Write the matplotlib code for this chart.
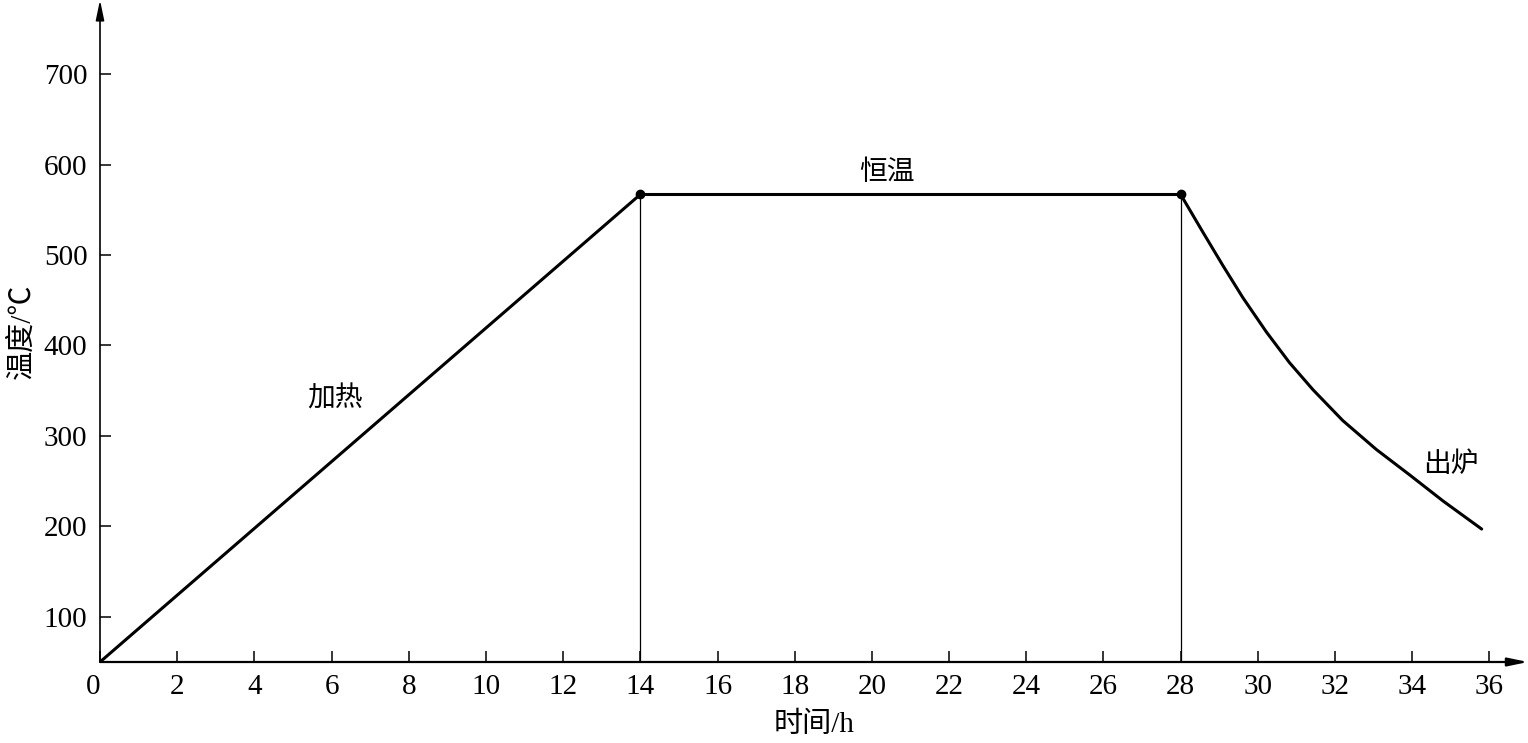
import matplotlib
matplotlib.use("Agg")
import matplotlib.pyplot as plt

# heating curve (time in h, temperature in C)
heat_t = [0, 14]
heat_T = [50, 567]
hold_t = [14, 28]
hold_T = [567, 567]
cool_t = [28, 28.58, 29.10, 29.61, 30.22, 30.82, 31.43, 32.20, 33.07, 33.93, 34.80, 35.80]
cool_T = [567, 525, 488, 453, 415, 381, 351, 317, 285, 257, 228, 197]

xticks = list(range(0, 37, 2))
yticks = [100, 200, 300, 400, 500, 600, 700]

labels = [("加热", 6.1, 340), ("恒温", 20.4, 590), ("出炉", 35.0, 268)]

FAM = ["Liberation Serif", "Noto Sans CJK SC"]
plt.rcParams["font.family"] = FAM

fig = plt.figure(figsize=(15.28, 7.43), dpi=100)
ax = fig.add_axes([100 / 1528, 81 / 743, 1428 / 1528, 662 / 743])
ax.set_xlim(0, 37)
ax.set_ylim(50, 782)

for s in ax.spines.values():
    s.set_visible(False)

# axes drawn as arrows
ax.annotate("", xy=(1, 0), xytext=(0, 0), xycoords="axes fraction",
            arrowprops=dict(arrowstyle="-|>,head_length=1.2,head_width=0.25",
                            lw=1.6, color="black", shrinkA=0, shrinkB=0),
            annotation_clip=False)
ax.annotate("", xy=(0, 1), xytext=(0, 0), xycoords="axes fraction",
            arrowprops=dict(arrowstyle="-|>,head_length=1.2,head_width=0.25",
                            lw=1.2, color="black", shrinkA=0, shrinkB=0),
            annotation_clip=False)

ax.plot(heat_t, heat_T, color="black", lw=2.2, solid_capstyle="round")
ax.plot(hold_t, hold_T, color="black", lw=2.2)
ax.plot(cool_t, cool_T, color="black", lw=2.2, solid_capstyle="round",
        solid_joinstyle="round")
ax.plot([heat_t[-1], cool_t[0]], [heat_T[-1], cool_T[0]], "o", color="black", ms=6)
ax.vlines([heat_t[-1], cool_t[0]], 50, heat_T[-1], color="black", lw=0.9)

for txt, x, y in labels:
    ax.text(x, y, txt, fontsize=20, ha="center", va="center", family=FAM)

ax.set_xticks(xticks)
ax.set_yticks(yticks)
ax.tick_params(direction="in", length=8, width=1.1, labelsize=21, pad=9)
for lab in ax.get_xticklabels():
    if lab.get_text() == "0":
        lab.set_horizontalalignment("right")

ax.set_xlabel("时间/h", fontsize=21, labelpad=8, family=FAM)
ax.set_ylabel("温度/℃", fontsize=21, labelpad=6, family=FAM)

fig.savefig("out.png", dpi=100)
